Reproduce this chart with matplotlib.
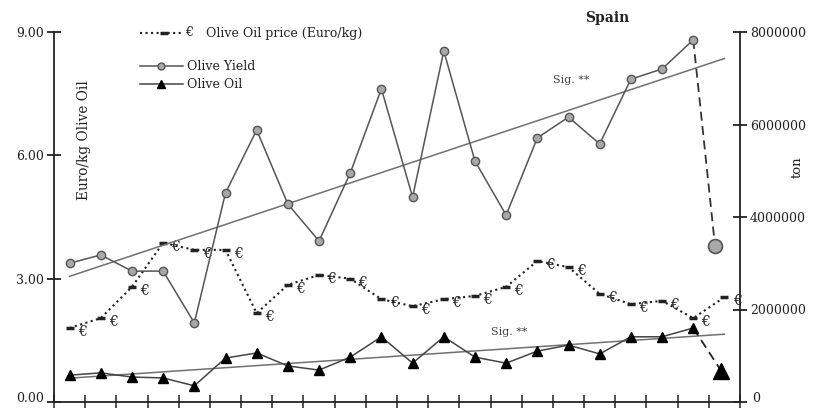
import numpy as np
import matplotlib
matplotlib.use("Agg")
import matplotlib.pyplot as plt
from matplotlib.lines import Line2D

plt.rcParams['font.family'] = ['DejaVu Serif']

# ---- data ----
years_idx = list(range(22))
price = [1.80, 2.04, 2.80, 3.87, 3.70, 3.70, 2.16, 2.85, 3.09, 3.00, 2.50, 2.33,
         2.50, 2.58, 2.80, 3.43, 3.28, 2.63, 2.38, 2.46, 2.04, 2.55]
yield_t = [3.00e6, 3.18e6, 2.83e6, 2.83e6, 1.71e6, 4.52e6, 5.88e6, 4.28e6, 3.48e6,
           4.95e6, 6.77e6, 4.43e6, 7.59e6, 5.21e6, 4.04e6, 5.71e6, 6.16e6, 5.58e6,
           6.98e6, 7.20e6, 7.83e6]
oil_t = [0.58e6, 0.63e6, 0.54e6, 0.52e6, 0.35e6, 0.95e6, 1.06e6, 0.78e6, 0.69e6,
         0.97e6, 1.41e6, 0.84e6, 1.41e6, 0.97e6, 0.84e6, 1.10e6, 1.23e6, 1.04e6,
         1.41e6, 1.41e6, 1.60e6]
yield_last = 3.37e6
oil_last = 0.67e6
left_ticks = [0, 3, 6, 9]
left_labels = ["0.00", "3.00", "6.00", "9.00"]
right_ticks = [0, 2e6, 4e6, 6e6, 8e6]
right_labels = ["0", "2000000", "4000000", "6000000", "8000000"]

W, H = 814, 408
fig = plt.figure(figsize=(W / 100, H / 100), dpi=100)
ax = fig.add_axes([54 / W, 1 - 402 / H, (740 - 54) / W, (402 - 32) / H])
ax2 = ax.twinx()

x = np.array(years_idx)
n = len(yield_t)
xs = x[:n]

def fx(px):
    return px / W
def fy(py):
    return 1 - py / H

# axes setup
ax.set_xlim(-0.5, 21.5)
ax.set_ylim(0, 9)
ax2.set_ylim(0, 8e6)
ax.set_yticks(left_ticks)
ax.set_yticklabels([''] + left_labels[1:])
ax2.set_yticks(right_ticks)
ax2.set_yticklabels([''] + right_labels[1:])
ax.set_xticks(np.arange(-0.5, 21.6, 1.0))
ax.set_xticklabels([])
for a in (ax, ax2):
    a.spines['top'].set_visible(False)
    for s in a.spines.values():
        s.set_linewidth(1.3)
        s.set_color('#222222')
ax.spines['right'].set_visible(False)
ax2.spines['left'].set_visible(False)
ax2.spines['bottom'].set_visible(False)
ax.tick_params(axis='y', direction='inout', length=10, width=1.3, labelsize=9, pad=2, colors='#222222')
ax.tick_params(axis='x', direction='inout', length=10, width=1.1, colors='#222222')
ax2.tick_params(axis='y', direction='inout', length=10, width=1.3, labelsize=9, pad=2, colors='#222222')
# bottom tick labels placed slightly up so they stay inside the canvas
fig.text(fx(44), fy(399), left_labels[0], fontsize=9, ha='right', va='center', color='#222222')
fig.text(fx(752), fy(399), right_labels[0], fontsize=9, ha='left', va='center', color='#222222')

# yield + trend
ax2.plot(xs, yield_t, '-', color='#555555', lw=1.1, marker='o', ms=6,
         mfc='#a8a8a8', mec='#555555', mew=1.0, zorder=4)
ax2.plot([xs[-1], 20.7], [yield_t[-1], yield_last], '--', color='#333333', lw=1.3, dashes=(5, 3), zorder=3)
ax2.plot([20.7], [yield_last], 'o', ms=10, mfc='#a8a8a8', mec='#555555', mew=1.2, zorder=5)
c = np.polyfit(xs, yield_t, 1)
xt = np.array([0, 21])
ax2.plot(xt, np.polyval(c, xt), '-', color='#707070', lw=1.1, zorder=2)

# oil + trend
ax2.plot(xs, oil_t, '-', color='#444444', lw=1.1, marker='^', ms=7,
         mfc='black', mec='black', zorder=4)
ax2.plot([xs[-1], 20.9], [oil_t[-1], oil_last], '--', color='#222222', lw=1.3, dashes=(5, 3), zorder=3)
ax2.plot([20.9], [oil_last], '^', ms=11, mfc='black', mec='black', zorder=5)
c2 = np.polyfit(xs, oil_t, 1)
ax2.plot(xt, np.polyval(c2, xt), '-', color='#707070', lw=1.1, zorder=2)

# price
ax.plot(x, price, ':', color='#222222', lw=1.5, marker='_', ms=6, mew=2.5, zorder=4)
for xi, p in zip(x, price):
    ax.annotate('€', (xi, p), xytext=(6, -3), textcoords='offset points',
                ha='left', va='center', fontsize=10, color='#222222',
                family=['DejaVu Serif'])

# texts
fig.text(607 / W, 1 - 18 / H, 'Spain', fontsize=10, fontweight='bold', ha='center', va='center', color='#222222')
fig.text(84 / W, 1 - 140 / H, 'Euro/kg Olive Oil', fontsize=9.8, rotation=90, ha='center', va='center', color='#222222')
fig.text(797 / W, 1 - 167 / H, 'ton', fontsize=9.5, rotation=90, ha='center', va='center', color='#222222')
fig.text(571 / W, 1 - 80 / H, 'Sig. **', fontsize=8, ha='center', va='center', color='#444444')
fig.text(509 / W, 1 - 332 / H, 'Sig. **', fontsize=8, ha='center', va='center', color='#444444')

# legend (manual)
fig.add_artist(Line2D([fx(140), fx(183)], [fy(33), fy(33)], ls=':', color='#222222', lw=1.5))
fig.add_artist(Line2D([fx(164)], [fy(33)], marker='_', ms=6, mew=2.5, color='#222222'))
fig.text(fx(189), fy(33), '€', fontsize=9, ha='center', va='center', color='#222222')
fig.text(fx(206), fy(34), 'Olive Oil price (Euro/kg)', fontsize=9, ha='left', va='center', color='#222222')

fig.add_artist(Line2D([fx(140), fx(183)], [fy(66), fy(66)], color='#555555', lw=1.1))
fig.add_artist(Line2D([fx(161)], [fy(66)], marker='o', ms=5, mfc='#a8a8a8', mec='#555555', color='#555555'))
fig.text(fx(187), fy(66), 'Olive Yield', fontsize=9, ha='left', va='center', color='#222222')
fig.add_artist(Line2D([fx(140), fx(183)], [fy(84), fy(84)], color='#444444', lw=1.1))
fig.add_artist(Line2D([fx(161)], [fy(84)], marker='^', ms=6, mfc='black', mec='black', color='black'))
fig.text(fx(187), fy(84), 'Olive Oil', fontsize=9, ha='left', va='center', color='#222222')

fig.savefig('out.png', dpi=100)
